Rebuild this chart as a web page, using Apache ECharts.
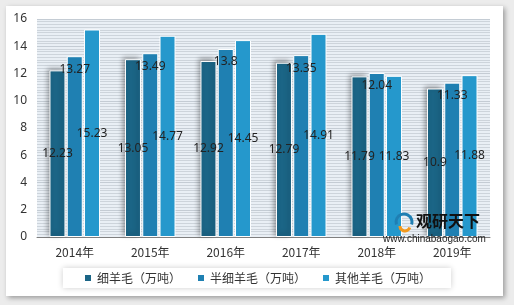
<!DOCTYPE html>
<html>
<head>
<meta charset="utf-8">
<script src="https://cdn.jsdelivr.net/npm/echarts@6/dist/echarts.min.js"></script>
<style>
    body { margin: 0; background: #ececec; }
    #card { position: absolute; left: 6px; top: 6px; width: 497px; height: 290px; background: #fff;
            box-shadow: 2px 2px 5px rgba(0,0,0,0.35); }
    #main { position: absolute; left: 0; top: 0; width: 514px; height: 305px; }
</style>
</head>
<body>
<div id="card"></div>
<div id="main"></div>

<script type="text/javascript">

    var years = ["2014年", "2015年", "2016年", "2017年", "2018年", "2019年"];
    var fineWool = [12.23, 13.05, 12.92, 12.79, 11.79, 10.9];
    var semiFineWool = [13.27, 13.49, 13.8, 13.35, 12.04, 11.33];
    var otherWool = [15.23, 14.77, 14.45, 14.91, 11.83, 11.88];
    var names = ["细羊毛（万吨）", "半细羊毛（万吨）", "其他羊毛（万吨）"];

    var ec = echarts.init(document.getElementById('main'));

    var labelFont = { fontSize: 12, color: '#222', fontFamily: 'Noto Sans' };

    var option = {
        textStyle: { fontFamily: '"Noto Sans", "Noto Sans CJK SC"' },
        grid: {
            left: 37, right: 24, top: 19, bottom: 68,
            show: true, backgroundColor: '#e9eff5', borderWidth: 0
        },
        legend: {
            data: names,
            bottom: 17,
            left: 'center',
            icon: 'rect',
            itemWidth: 8,
            itemHeight: 8,
            itemGap: 15,
            padding: [4, 20],
            backgroundColor: '#fff',
            shadowBlur: 6,
            shadowColor: 'rgba(0,0,0,0.2)',
            textStyle: { fontSize: 12, color: '#333', fontFamily: '"Noto Sans CJK SC"' }
        },
        xAxis: {
            type: 'category',
            data: years,
            axisTick: { show: false },
            axisLine: { lineStyle: { color: '#7f7f7f' } },
            axisLabel: { fontSize: 12, color: '#333', margin: 9, fontFamily: '"Noto Sans CJK SC"' }
        },
        yAxis: {
            type: 'value',
            min: 0, max: 16, interval: 2,
            axisLabel: { fontSize: 12, color: '#333', margin: 10 },
            splitLine: { lineStyle: { color: '#c4ccd4' } },
            minorTick: { show: false, splitNumber: 10 },
            minorSplitLine: { show: true, lineStyle: { color: '#cdd4db' } }
        },
        series: [{
            name: names[0],
            type: 'bar',
            data: fineWool,
            barWidth: 16,
            barGap: '8%',
            itemStyle: {
                color: '#1b6586', borderColor: '#fff', borderWidth: 1,
                shadowColor: 'rgba(0,0,0,0.35)', shadowBlur: 5, shadowOffsetX: -2, shadowOffsetY: -2
            },
            label: Object.assign({ show: true, position: 'inside' }, labelFont)
        }, {
            name: names[1],
            type: 'bar',
            data: semiFineWool,
            barWidth: 16,
            barGap: '8%',
            itemStyle: { color: '#1f80b2', borderColor: '#fff', borderWidth: 1 },
            label: Object.assign({ show: true, position: 'insideTop', distance: 7 }, labelFont)
        }, {
            name: names[2],
            type: 'bar',
            data: otherWool,
            barWidth: 16,
            barGap: '8%',
            itemStyle: { color: '#2598cc', borderColor: '#fff', borderWidth: 1 },
            label: Object.assign({ show: true, position: 'inside' }, labelFont)
        }],
        graphic: [
            { type: 'arc', z: 100, shape: { cx: 404, cy: 222, r: 8, startAngle: Math.PI * 0.9, endAngle: Math.PI * 2.1 },
              style: { stroke: '#1f7fb3', lineWidth: 3, fill: null } },
            { type: 'arc', z: 100, shape: { cx: 405, cy: 226, r: 5, startAngle: Math.PI * 0.1, endAngle: Math.PI * 1.0 },
              style: { stroke: '#f39a1e', lineWidth: 3, fill: null } },
            { type: 'text', z: 100, left: 416, top: 213,
              style: { text: '观研天下', fontSize: 16, fontWeight: 'bold', fill: '#111', fontFamily: '"Noto Sans CJK SC"' } },
            { type: 'text', z: 100, left: 383, top: 234,
              style: { text: 'www.chinabaogao.com', fontSize: 10, fill: '#222', fontFamily: 'Liberation Sans' } }
        ]
    };

    ec.setOption(option);
</script>
</body>
</html>
